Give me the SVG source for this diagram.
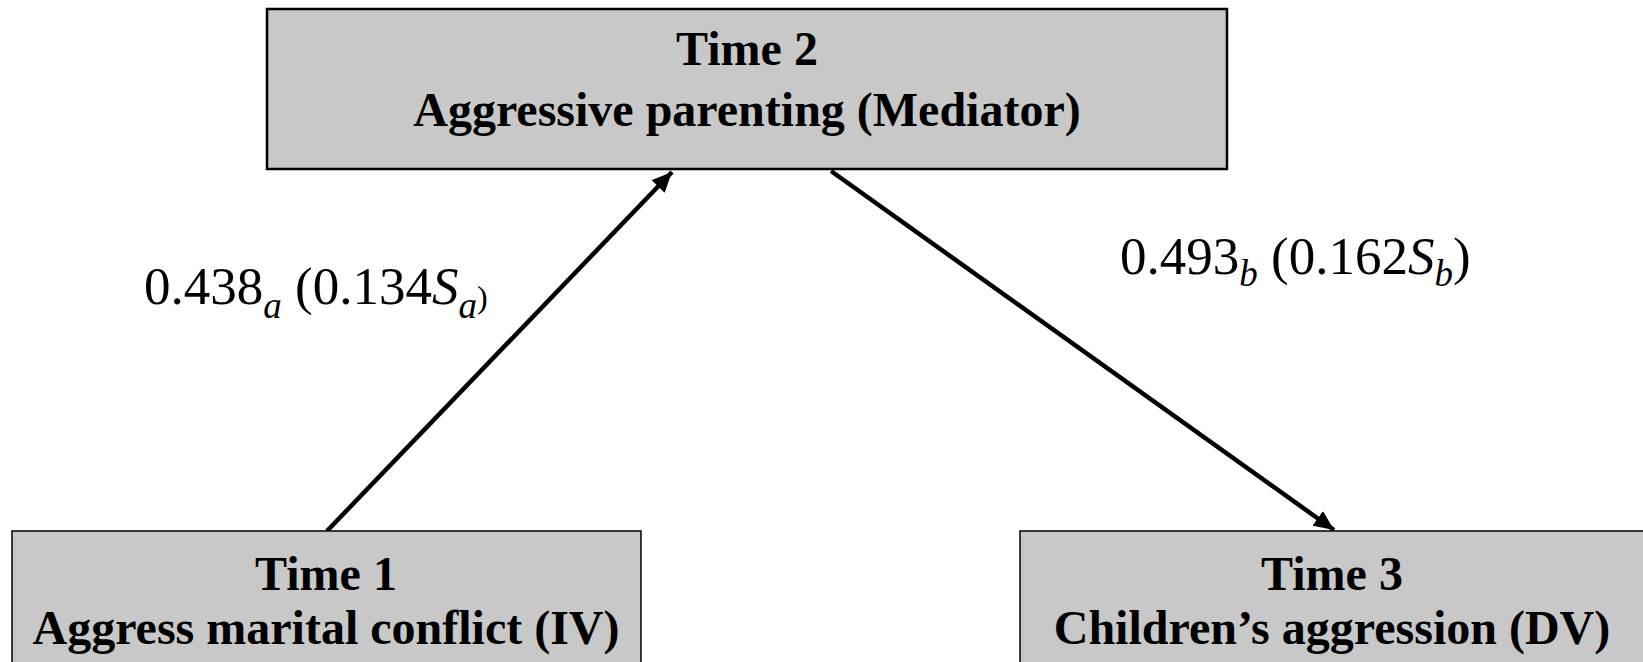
<svg xmlns="http://www.w3.org/2000/svg" width="1643" height="662" viewBox="0 0 1643 662">
<style>
.box{fill:#c8c8c8;stroke:#000}
.t{font-weight:bold;font-size:48px;text-anchor:middle;fill:#000}
.lbl{font-size:53px;fill:#000}
.sub{font-style:italic;font-size:37px}
.conn{stroke:#000;stroke-width:4.5;fill:none}
</style>
<defs>
<marker id="ah" markerUnits="userSpaceOnUse" markerWidth="22" markerHeight="18" refX="20" refY="9" orient="auto">
<path d="M0,0 L20,9 L0,18 Z" fill="#000"/>
</marker>
</defs>
<rect width="1643" height="662" fill="#fff"/>
<g id="connectors">
<line class="conn" x1="327" y1="531" x2="672" y2="172" marker-end="url(#ah)"/>
<line class="conn" x1="831" y1="171" x2="1334" y2="530" marker-end="url(#ah)"/>
</g>
<g font-family="Liberation Serif, Times New Roman, Tinos, serif">
<g id="mediator">
<rect class="box" x="267" y="9" width="960" height="160" stroke-width="2.5"/>
<text class="t" x="747" y="65">Time 2</text>
<text class="t" x="747" y="126">Aggressive parenting (Mediator)</text>
</g>
<g id="iv">
<rect class="box" x="12" y="531" width="629" height="140" stroke-width="1.5"/>
<text class="t" x="326" y="590">Time 1</text>
<text class="t" x="326" y="644">Aggress marital conflict (IV)</text>
</g>
<g id="dv">
<rect class="box" x="1020" y="531" width="630" height="140" stroke-width="1.5"/>
<text class="t" x="1332" y="590">Time 3</text>
<text class="t" x="1332" y="644">Children’s aggression (DV)</text>
</g>
<g id="labels">
<text class="lbl" x="144" y="304">0.438<tspan class="sub" dy="14">a</tspan><tspan dy="-14"> (0.134</tspan><tspan font-style="italic">S</tspan><tspan class="sub" dy="14">a</tspan><tspan font-size="32" dy="-10">)</tspan></text>
<text class="lbl" x="1120" y="274">0.493<tspan class="sub" dy="12">b</tspan><tspan dy="-12"> (0.162</tspan><tspan font-style="italic">S</tspan><tspan class="sub" dy="12">b</tspan><tspan dy="-12">)</tspan></text>
</g>
</g>
</svg>
